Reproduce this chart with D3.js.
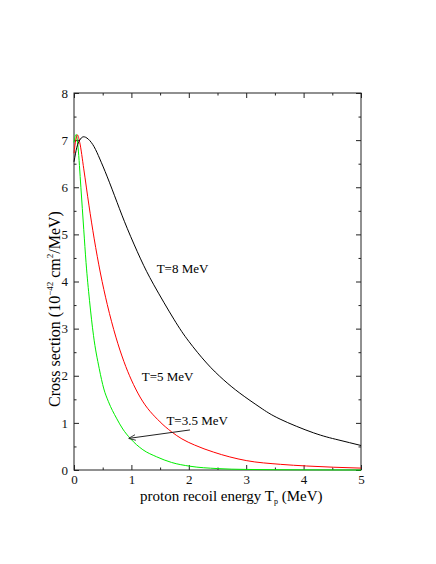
<!DOCTYPE html>
<html>
<head>
<meta charset="utf-8">
<script src="https://cdn.jsdelivr.net/npm/d3@7"></script>
<style>
  body { margin: 0; background: #fff; }
  svg { display: block; font-family: "Liberation Serif", "DejaVu Serif", serif; }
  .axis path { display: none; }
  .axis line { stroke: #222; }
  .axis text { font-size: 13px; fill: #111; }
</style>
</head>
<body>
<div id="chart"></div>
<script>
// T = 8 MeV
const t8X = [0, 0.05, 0.1, 0.16, 0.25, 0.35, 0.45, 0.58, 0.75, 0.93, 1.16, 1.39, 1.74, 2.0, 2.31, 2.6, 2.89, 3.24, 3.59, 4.17, 4.6, 5.0];
const t8Y = [6.54, 6.85, 7.0, 7.07, 7.02, 6.86, 6.6, 6.22, 5.68, 5.12, 4.48, 3.93, 3.2, 2.73, 2.27, 1.92, 1.63, 1.33, 1.08, 0.79, 0.64, 0.52];
// T = 5 MeV
const t5X = [0, 0.03, 0.06, 0.1, 0.17, 0.26, 0.35, 0.46, 0.58, 0.73, 0.87, 1.0, 1.15, 1.5, 1.7, 1.88, 2.1, 2.43, 3.0, 3.6, 4.05, 5.0];
const t5Y = [6.72, 7.0, 7.11, 6.95, 6.39, 5.62, 4.92, 4.18, 3.51, 2.82, 2.3, 1.91, 1.55, 1.02, 0.81, 0.66, 0.53, 0.38, 0.2, 0.12, 0.085, 0.04];
// T = 3.5 MeV
const t35X = [0, 0.02, 0.04, 0.07, 0.12, 0.17, 0.21, 0.27, 0.34, 0.44, 0.52, 0.6, 0.74, 0.85, 0.98, 1.2, 1.44, 1.7, 2.02, 2.5, 3.0, 4.0, 5.0];
const t35Y = [6.95, 7.08, 7.12, 6.85, 6.0, 5.1, 4.4, 3.6, 2.85, 2.15, 1.72, 1.45, 1.1, 0.87, 0.67, 0.43, 0.28, 0.16, 0.08, 0.03, 0.012, 0.003, 0.0];

const xTicks = [0, 1, 2, 3, 4, 5];
const yTicks = [0, 1, 2, 3, 4, 5, 6, 7, 8];
const xMinor = [0.5, 1.5, 2.5, 3.5, 4.5];
const yMinor = [0.5, 1.5, 2.5, 3.5, 4.5, 5.5, 6.5, 7.5];

const labelText = ['T=8 MeV', 'T=5 MeV', 'T=3.5 MeV'];
const labelX = [1.44, 1.18, 1.61];
const labelY = [4.18, 1.89, 0.96];
const arrowFrom = [2.02, 0.85];
const arrowTo = [0.95, 0.67];

const W = 436, H = 564;
const margin = { top: 93, right: 75, bottom: 94, left: 74 };
const width = W - margin.left - margin.right;
const height = H - margin.top - margin.bottom;
const serif = '"Liberation Serif", "DejaVu Serif", serif';

const svg = d3.select('#chart').append('svg')
  .attr('width', W)
  .attr('height', H);

const g = svg.append('g')
  .attr('transform', `translate(${margin.left},${margin.top})`);

const x = d3.scaleLinear().domain([0, 5]).range([0, width]);
const y = d3.scaleLinear().domain([0, 8]).range([height, 0]);

// ticks on all four sides, pointing inward
g.append('g').attr('class', 'axis')
  .attr('transform', `translate(0,${height})`)
  .call(d3.axisBottom(x).tickValues(xTicks).tickSize(-5).tickPadding(5).tickFormat(d3.format('d')));
g.append('g').attr('class', 'axis')
  .attr('transform', `translate(0,${height})`)
  .call(d3.axisBottom(x).tickValues(xMinor).tickSize(-2.5).tickFormat(''));
g.append('g').attr('class', 'axis')
  .call(d3.axisTop(x).tickValues(xTicks).tickSize(-5).tickFormat(''));
g.append('g').attr('class', 'axis')
  .call(d3.axisTop(x).tickValues(xMinor).tickSize(-2.5).tickFormat(''));

g.append('g').attr('class', 'axis')
  .call(d3.axisLeft(y).tickValues(yTicks).tickSize(-5).tickPadding(6).tickFormat(d3.format('d')));
g.append('g').attr('class', 'axis')
  .call(d3.axisLeft(y).tickValues(yMinor).tickSize(-2.5).tickFormat(''));
g.append('g').attr('class', 'axis')
  .attr('transform', `translate(${width},0)`)
  .call(d3.axisRight(y).tickValues(yTicks).tickSize(-5).tickFormat(''));
g.append('g').attr('class', 'axis')
  .attr('transform', `translate(${width},0)`)
  .call(d3.axisRight(y).tickValues(yMinor).tickSize(-2.5).tickFormat(''));

// d3 axes put sans-serif on their groups
g.selectAll('.axis').attr('font-family', serif).attr('font-size', 13);

g.append('rect')
  .attr('width', width)
  .attr('height', height)
  .attr('fill', 'none')
  .attr('stroke', '#222')
  .attr('stroke-width', 1);

// curves
const series = [
  { xs: t35X, ys: t35Y, color: '#00ee00', curve: d3.curveMonotoneX },
  { xs: t5X, ys: t5Y, color: '#ff0000', curve: d3.curveMonotoneX },
  { xs: t8X, ys: t8Y, color: '#000000', curve: d3.curveNatural }
];

series.forEach(s => {
  const line = d3.line()
    .x(d => x(d[0]))
    .y(d => y(d[1]))
    .curve(s.curve);
  g.append('path')
    .datum(s.xs.map((v, i) => [v, s.ys[i]]))
    .attr('d', line)
    .attr('fill', 'none')
    .attr('stroke', s.color)
    .attr('stroke-width', 1);
});

// curve labels
g.selectAll('.clabel')
  .data(labelText).enter().append('text')
  .attr('x', (d, i) => x(labelX[i]))
  .attr('y', (d, i) => y(labelY[i]))
  .style('font-size', '13px')
  .text(d => d);

// arrow to the T=3.5 curve
svg.append('defs').append('marker')
  .attr('id', 'head')
  .attr('viewBox', '0 0 10 10')
  .attr('refX', 10).attr('refY', 5)
  .attr('markerWidth', 7).attr('markerHeight', 7)
  .attr('markerUnits', 'userSpaceOnUse')
  .attr('orient', 'auto')
  .append('path')
  .attr('d', 'M0,1 L10,5 L0,9')
  .attr('fill', 'none')
  .attr('stroke', '#222')
  .attr('stroke-width', 1.2);

g.append('line')
  .attr('x1', x(arrowFrom[0])).attr('y1', y(arrowFrom[1]))
  .attr('x2', x(arrowTo[0])).attr('y2', y(arrowTo[1]))
  .attr('stroke', '#222')
  .attr('stroke-width', 1)
  .attr('marker-end', 'url(#head)');

// axis titles
const xt = svg.append('text')
  .attr('x', 140)
  .attr('y', 501)
  .style('font-size', '15px');
xt.append('tspan').text('proton recoil energy T');
xt.append('tspan').attr('dy', 3).style('font-size', '8px').text('p');
xt.append('tspan').attr('dy', -3).text(' (MeV)');

const yt = svg.append('text')
  .attr('transform', 'translate(60,309) rotate(-90)')
  .attr('text-anchor', 'middle')
  .style('font-size', '16px');
yt.append('tspan').text('Cross section (10');
yt.append('tspan').attr('dy', -7).style('font-size', '9px').text('−42');
yt.append('tspan').attr('dy', 7).text(' cm');
yt.append('tspan').attr('dy', -7).style('font-size', '9px').text('2');
yt.append('tspan').attr('dy', 7).text('/MeV)');
</script>
</body>
</html>
